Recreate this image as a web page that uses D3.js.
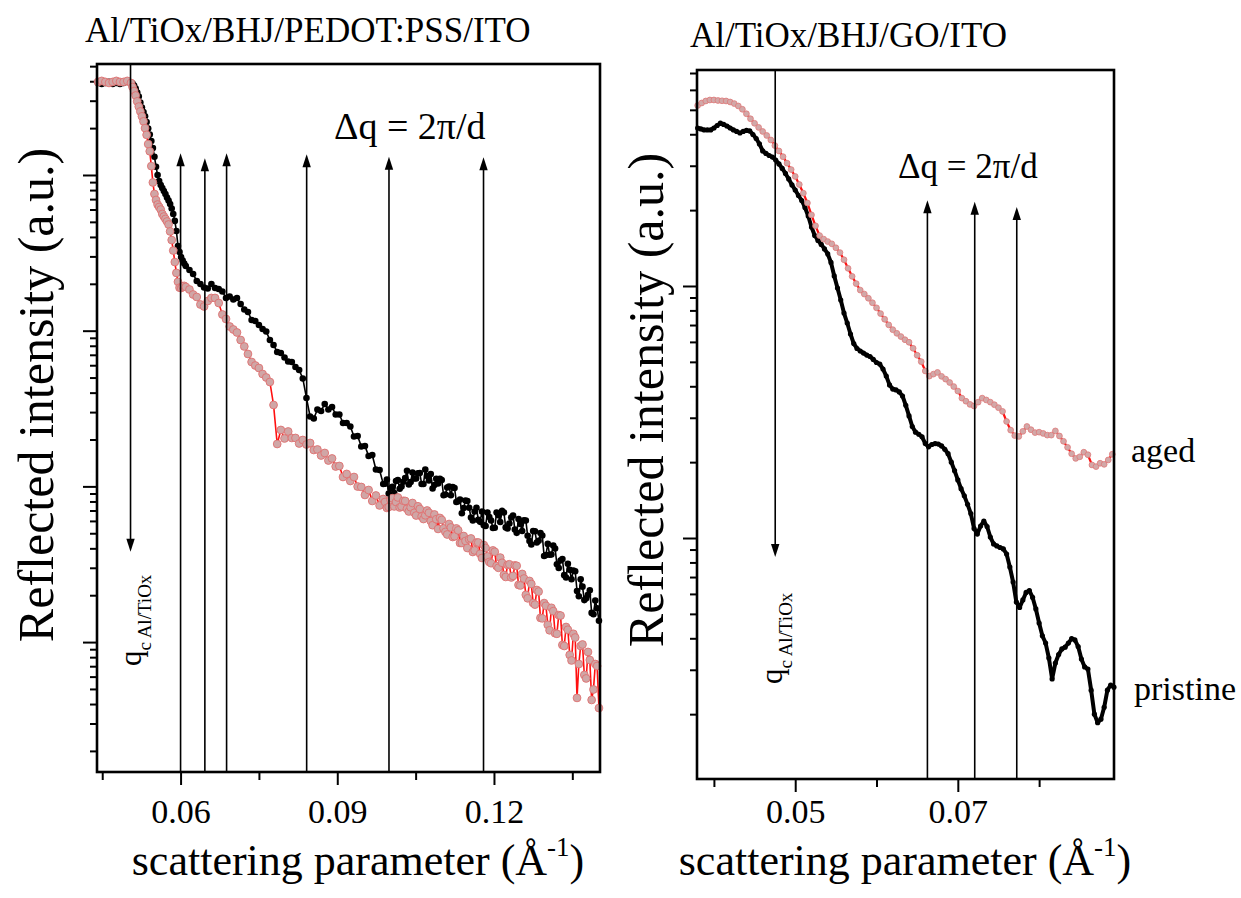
<!DOCTYPE html>
<html><head><meta charset="utf-8">
<script src="https://cdn.jsdelivr.net/npm/d3@7"></script>
<style>
body{margin:0;background:#fff}
svg text{font-family:"Liberation Serif","Times New Roman",serif;fill:#000}
</style>
</head><body>
<svg id="c" width="1241" height="898"></svg>
<script>
// ---------------- data: left panel (Al/TiOx/BHJ/PEDOT:PSS/ITO) ----------------
const leftQ = [
0.0442,0.0449,0.0456,0.0463,0.0470,0.0477,0.0484,0.0491,0.0498,0.0505,
0.0508,0.0511,0.0514,0.0517,0.0520,0.0523,0.0526,0.0529,0.0532,0.0535,0.0538,0.0541,0.0544,0.0547,0.0550,0.0553,0.0556,0.0559,0.0562,0.0565,0.0568,0.0571,0.0574,0.0577,0.0580,0.0583,0.0586,0.0589,0.0592,0.0595,0.0598,0.0601,0.0604,0.0607,0.0610,
0.0617,0.0624,0.0631,0.0638,0.0645,0.0652,0.0659,0.0666,0.0673,0.0680,
0.0687,0.0694,0.0701,0.0708,0.0715,0.0722,0.0729,0.0736,0.0743,0.0750,
0.0757,0.0764,0.0771,0.0778,0.0785,0.0792,0.0799,0.0806,0.0813,0.0820,
0.0827,0.0834,0.0841,0.0848,0.0855,0.0862,0.0869,0.0876,0.0883,0.0890,
0.0897,0.0904,0.0911,0.0918,0.0925,0.0932,0.0939,0.0946,0.0953,0.0960,
0.0967,0.0974,0.0981,0.0988,0.0995,0.1002,0.1009,0.1016,0.1023,0.1030,
0.1037,0.1044,0.1051,0.1058,0.1065,0.1072,0.1079,0.1086,0.1093,0.1100,
0.1107,0.1114,0.1121,0.1128,0.1135,0.1142,0.1149,0.1156,0.1163,0.1170,
0.1177,0.1184,0.1191,0.1198,0.1205,0.1212,0.1219,0.1226,0.1233,0.1240,
0.1247,0.1254,0.1261,0.1268,0.1275,0.1282,0.1289,0.1296,0.1303,0.1310,
0.1317,0.1324,0.1331,0.1338,0.1345,0.1352,0.1359,0.1366,0.1373,0.1380,
0.1387,0.1394,0.1401];
const leftPristine = [
0.390,0.384,0.390,0.396,0.384,0.390,0.384,0.390,0.396,0.390,
0.387,0.376,0.359,0.339,0.319,0.292,0.271,0.254,0.238,0.219,0.199,0.182,0.165,0.149,0.131,0.113,0.100,0.0915,0.0863,0.0825,0.0789,0.0755,0.0717,0.0686,0.0651,0.0609,0.0562,0.0507,0.0437,0.0350,0.0320,0.0297,0.0282,0.0270,0.0260,
0.02454,0.02313,0.02086,0.01995,0.01894,0.01866,0.01995,0.01880,0.01852,0.01786,
0.01622,0.01659,0.01586,0.01622,0.01484,0.01368,0.01318,0.01172,0.01155,0.01088,
0.01025,0.00988,0.008713,0.008094,0.007298,0.007191,0.006728,0.006340,0.006295,0.005845,
0.005592,0.004932,0.003697,0.002811,0.002729,0.003118,0.003050,0.003382,0.003118,0.003236,
0.002896,0.002896,0.002554,0.002554,0.002425,0.002092,0.002107,0.001804,0.001817,0.001567,
0.001591,0.001284,0.001275,0.001036,0.001107,0.000969,0.000907,0.001099,0.000998,0.001132,
0.001028,0.001229,0.001124,0.001220,0.001036,0.001166,0.001202,0.001021,0.001044,0.001099,
0.000887,0.000998,0.000991,0.000794,0.000824,0.000727,0.000806,0.000631,0.000690,0.000609,
0.000690,0.000557,0.000636,0.000540,0.000680,0.000591,0.000680,0.000537,0.000631,0.000529,
0.000617,0.000517,0.000604,0.000446,0.000517,0.000436,0.000502,0.000357,0.000427,0.000365,
0.000399,0.000299,0.000342,0.000260,0.000291,0.000288,0.000213,0.000253,0.000186,0.000201,
0.000154,0.000185,0.000137];
const leftAged = [
0.396,0.402,0.396,0.390,0.396,0.402,0.396,0.396,0.402,0.390,
0.367,0.346,0.324,0.297,0.275,0.256,0.238,0.221,0.200,0.181,0.158,0.142,0.114,0.0895,0.0755,0.0691,0.0646,0.0623,0.0600,0.0562,0.0541,0.0522,0.0503,0.0481,0.0434,0.0382,0.0327,0.0276,0.0235,0.0206,0.0189,0.0188,0.0192,0.0194,0.0191,
0.01839,0.01708,0.01646,0.01473,0.01430,0.01551,0.01622,0.01622,0.01506,0.01271,
0.01189,0.01064,0.01018,0.009737,0.008713,0.007918,0.007085,0.006295,0.005976,0.005759,
0.005271,0.005005,0.004683,0.003333,0.001872,0.002303,0.002031,0.002252,0.002046,0.002046,
0.001886,0.001986,0.001858,0.001900,0.001713,0.001726,0.001579,0.001639,0.001466,0.001511,
0.001342,0.001352,0.001149,0.001202,0.001083,0.001149,0.000998,0.000991,0.000881,0.000948,
0.000806,0.000874,0.000754,0.000830,0.000727,0.000818,0.000743,0.000849,0.000743,0.000806,
0.000690,0.000782,0.000650,0.000716,0.000617,0.000700,0.000599,0.000660,0.000533,0.000609,
0.000510,0.000573,0.000473,0.000537,0.000433,0.000480,0.000402,0.000463,0.000388,0.000436,
0.000347,0.000402,0.000327,0.000388,0.000308,0.000349,0.000270,0.000313,0.000260,0.000311,
0.000233,0.000274,0.000201,0.000247,0.000178,0.000216,0.000143,0.000178,0.000129,0.000166,
0.000114,0.000149,0.0000958,0.000125,0.0000827,0.000113,0.0000438,0.0000944,0.0000615,0.0000864,
0.0000425,0.0000723,0.0000377];
// extra (interleaved) readings in the noisy tail
const leftQTail = [
0.09915,0.09985,0.10055,0.10125,0.10195,0.10265,0.10335,0.10405,0.10475,0.10545,
0.10615,0.10685,0.10755,0.10825,0.10895,0.10965,0.11035,0.11105,0.11175,0.11245,
0.11315,0.11385,0.11455,0.11525,0.11595,0.11665,0.11735,0.11805,0.11875,0.11945,
0.12015,0.12085,0.12155,0.12225,0.12295,0.12365,0.12435,0.12505,0.12575,0.12645,
0.12715,0.12785,0.12855,0.12925,0.12995,0.13065,0.13135,0.13205,0.13275,0.13345,
0.13415,0.13485,0.13555,0.13625,0.13695,0.13765,0.13835,0.13905,0.13975];
const leftPristineTail = [
0.001039,0.000900,0.000994,0.001083,0.000965,0.001070,0.001259,0.001067,0.001124,0.001214,
0.001036,0.001284,0.001091,0.000969,0.001119,0.001119,0.000877,0.000984,0.000877,0.000977,
0.000802,0.000672,0.000812,0.000729,0.000604,0.000729,0.000592,0.000563,0.000680,0.000604,
0.000542,0.000652,0.000697,0.000545,0.000578,0.000650,0.000503,0.000573,0.000606,0.000482,
0.000423,0.000515,0.000447,0.000484,0.000362,0.000364,0.000417,0.000316,0.000334,0.000269,
0.000318,0.000253,0.000285,0.000197,0.000227,0.000191,0.000215,0.000151,0.000165];
const leftAgedTail = [
0.000794,0.000737,0.000839,0.000794,0.000732,0.000808,0.000718,0.000734,0.000677,0.000745,
0.000641,0.000652,0.000677,0.000563,0.000615,0.000627,0.000537,0.000491,0.000545,0.000478,
0.000522,0.000433,0.000446,0.000457,0.000379,0.000436,0.000369,0.000420,0.000355,0.000321,
0.000380,0.000300,0.000323,0.000262,0.000316,0.000266,0.000309,0.000231,0.000256,0.000191,
0.000236,0.000174,0.000211,0.000142,0.000171,0.000119,0.000158,0.000113,0.000148,0.0000944,
0.000120,0.0000762,0.000107,0.0000723,0.0000965,0.0000584,0.0000767,0.0000496,0.0000702];
const leftArrowQ = [0.0600,0.06465,0.06881,0.08414,0.0999,0.1180];
const leftArrowTip = [0.1378,0.1280,0.1378,0.1358,0.1311,0.1298];
const leftQc = 0.05042, leftQcTip = 0.000381;
const leftXMajor = [0.06,0.09,0.12];
const leftXLabels = ["0.06","0.09","0.12"];
const leftXMinor = [0.045,0.075,0.105,0.135];
const leftYMajor = [1e-4,1e-3,1e-2,1e-1];

// ---------------- data: right panel (Al/TiOx/BHJ/GO/ITO) ----------------
const rightQPristine = [
0.0380,0.0384,0.0388,0.0392,0.0396,0.0400,0.0404,0.0408,0.0412,0.0416,
0.0420,0.0424,0.0428,0.0432,0.0436,0.0440,0.0444,0.0448,0.0452,0.0456,
0.0460,0.0464,0.0468,0.0472,0.0476,0.0480,0.0484,0.0488,0.0492,0.0496,
0.0500,0.0504,0.0508,0.0512,0.0516,0.0520,0.0524,0.0528,0.0532,0.0536,
0.0540,0.0544,0.0548,0.0552,0.0556,0.0560,0.0564,0.0568,0.0572,0.0576,
0.0580,0.0584,0.0588,0.0592,0.0596,0.0600,0.0604,0.0608,0.0612,0.0616,
0.0620,0.0624,0.0628,0.0632,0.0636,0.0640,0.0644,0.0648,0.0652,0.0656,
0.0660,0.0664,0.0668,0.0672,0.0676,0.0680,0.0684,0.0688,0.0692,0.0696,
0.0700,0.0704,0.0708,0.0712,0.0716,0.0720,0.0724,0.0728,0.0732,0.0736,
0.0740,0.0744,0.0748,0.0752,0.0756,0.0760,0.0764,0.0768,0.0772,0.0776,
0.0780,0.0784,0.0788,0.0792,0.0796,0.0800,0.0804,0.0808,0.0812,0.0816,
0.0820,0.0824,0.0828,0.0832,0.0836,0.0840,0.0844,0.0848,0.0852,0.0856,
0.0860,0.0864,0.0868,0.0872,0.0876,0.0880,0.0884,0.0888,0.0892];
const rightPristine = [
0.4236,0.4198,0.4160,0.4160,0.4160,0.4236,0.4334,0.4434,0.4374,0.4314,
0.4236,0.4160,0.4103,0.4047,0.4103,0.4141,0.4122,0.3992,0.3848,0.3661,
0.3434,0.3356,0.3295,0.3250,0.3162,0.3049,0.2927,0.2796,0.2659,0.2517,
0.2404,0.2286,0.2184,0.2049,0.1896,0.1714,0.1586,0.1516,0.1462,0.1403,
0.1340,0.1240,0.1096,0.0982,0.0880,0.0781,0.0713,0.0645,0.0591,0.0565,
0.0552,0.0542,0.0532,0.0525,0.0511,0.0497,0.0490,0.0468,0.0439,0.0405,
0.0390,0.0387,0.0380,0.0366,0.0336,0.0305,0.0277,0.0263,0.0258,0.0252,
0.0237,0.0230,0.0235,0.0237,0.0236,0.0232,0.0225,0.0216,0.0200,0.0185,
0.0170,0.0157,0.0147,0.0136,0.0125,0.0109,0.01037,0.01116,0.01168,0.01111,
0.01009,0.00947,0.00930,0.00917,0.00905,0.00864,0.00767,0.00669,0.00557,0.00530,
0.00568,0.00608,0.00619,0.00581,0.00523,0.00460,0.00409,0.00383,0.00334,0.00276,
0.00319,0.00345,0.00363,0.00369,0.00383,0.00399,0.00394,0.00371,0.00331,0.00308,
0.00302,0.00249,0.00200,0.00185,0.00191,0.00213,0.00249,0.00261,0.00256];
const rightQAged = [
0.0380,0.0385,0.0390,0.0395,0.0400,0.0405,0.0410,0.0415,0.0420,0.0425,
0.0430,0.0435,0.0440,0.0445,0.0450,0.0455,0.0460,0.0465,0.0470,0.0475,
0.0480,0.0485,0.0490,0.0495,0.0500,0.0505,0.0510,0.0515,0.0520,0.0525,
0.0530,0.0535,0.0540,0.0545,0.0550,0.0555,0.0560,0.0565,0.0570,0.0575,
0.0580,0.0585,0.0590,0.0595,0.0600,0.0605,0.0610,0.0615,0.0620,0.0625,
0.0630,0.0635,0.0640,0.0645,0.0650,0.0655,0.0660,0.0665,0.0670,0.0675,
0.0680,0.0685,0.0690,0.0695,0.0700,0.0705,0.0710,0.0715,0.0720,0.0725,
0.0730,0.0735,0.0740,0.0745,0.0750,0.0755,0.0760,0.0765,0.0770,0.0775,
0.0780,0.0785,0.0790,0.0795,0.0800,0.0805,0.0810,0.0815,0.0820,0.0825,
0.0830,0.0835,0.0840,0.0845,0.0850,0.0855,0.0860,0.0865,0.0870,0.0875,
0.0880,0.0885,0.0890];
const rightAged = [
0.5203,0.5323,0.5421,0.5471,0.5471,0.5446,0.5431,0.5421,0.5372,0.5294,
0.5180,0.5026,0.4824,0.4608,0.4422,0.4259,0.4103,0.3956,0.3797,0.3606,
0.3434,0.3259,0.3071,0.2897,0.2720,0.2528,0.2335,0.2135,0.1915,0.1733,
0.1585,0.1535,0.1501,0.1470,0.1418,0.1357,0.1271,0.1175,0.1092,0.1022,
0.0963,0.0929,0.0894,0.0858,0.0819,0.0777,0.0738,0.0701,0.0671,0.0649,
0.0630,0.0612,0.0598,0.0566,0.0531,0.0501,0.0460,0.0439,0.0447,0.0454,
0.0438,0.0427,0.0414,0.0399,0.0383,0.0359,0.0349,0.0339,0.0334,0.0346,
0.0359,0.0353,0.0346,0.0338,0.0329,0.0318,0.0290,0.0268,0.0255,0.0253,
0.0265,0.0277,0.0269,0.0262,0.0263,0.0260,0.0256,0.0256,0.0266,0.0254,
0.0242,0.0229,0.0216,0.0207,0.0210,0.0219,0.0214,0.0195,0.0192,0.0198,
0.0196,0.0204,0.0215];
const rightArrowQ = [0.06626,0.07208,0.07725];
const rightArrowTip = [0.219,0.216,0.206];
const rightQc = 0.04754, rightQcTip = 0.00841;
const rightXMajor = [0.05,0.07];
const rightXLabels = ["0.05","0.07"];
const rightXMinor = [0.04,0.06,0.08];
const rightYMajor = [1e-2,1e-1];

// ---------------- drawing ----------------
const SERIF = '"Liberation Serif","Times New Roman",serif';
const svg = d3.select("#c");
svg.append("rect").attr("width",1241).attr("height",898).attr("fill","#fff");

function zip(qs, vs){ return qs.map((q,i)=>({q:q, v:vs[i]})); }

function drawPanel(o){
  const x = d3.scaleLinear().domain(o.xDomain).range([o.x0,o.x1]);
  const y = d3.scaleLog().domain(o.yDomain).range([o.y1,o.y0]);
  const g = svg.append("g");

  const axM = g.append("g").attr("transform",`translate(0,${o.y1})`)
    .call(d3.axisBottom(x).tickValues(o.xMajor).tickSize(13).tickPadding(o.tickPad)
      .tickFormat((d,i)=>o.xLabels[i]));
  axM.attr("font-size",34).attr("font-family",SERIF);
  const axm = g.append("g").attr("transform",`translate(0,${o.y1})`)
    .call(d3.axisBottom(x).tickValues(o.xMinor).tickSize(8).tickFormat(""));
  const isMajor = d => Math.abs(Math.log10(d)-Math.round(Math.log10(d)))<1e-6;
  const ayM = g.append("g").attr("transform",`translate(${o.x0},0)`)
    .call(d3.axisLeft(y).tickValues(o.yMajor).tickSize(14).tickFormat(""));
  const ayMinor = y.ticks().filter(d=>!isMajor(d));
  const aym = g.append("g").attr("transform",`translate(${o.x0},0)`)
    .call(d3.axisLeft(y).tickValues(ayMinor).tickSize(7).tickFormat(""));
  [axM,axm,ayM,aym].forEach(a=>{
    a.select(".domain").remove();
    a.selectAll(".tick line").attr("stroke","#000").attr("stroke-width",2);
  });

  const line = d3.line().x(d=>x(d.q)).y(d=>y(d.v));
  o.draw(g, x, y, line);

  const arrowG = g.append("g");
  o.arrowQ.forEach((q,i)=>{
    const xx = x(q), tip = y(o.arrowTip[i]);
    arrowG.append("line").attr("x1",xx).attr("x2",xx).attr("y1",o.y1).attr("y2",tip+8)
      .attr("stroke","#000").attr("stroke-width",1.6);
    arrowG.append("path").attr("d",`M${xx},${tip} L${xx-4.2},${tip+13} L${xx+4.2},${tip+13} Z`).attr("fill","#000");
  });
  {
    const xx = x(o.qc), tip = y(o.qcTip);
    arrowG.append("line").attr("x1",xx).attr("x2",xx).attr("y1",o.y0).attr("y2",tip-8)
      .attr("stroke","#000").attr("stroke-width",1.6);
    arrowG.append("path").attr("d",`M${xx},${tip} L${xx-4.2},${tip-13} L${xx+4.2},${tip-13} Z`).attr("fill","#000");
  }

  g.append("rect").attr("x",o.x0).attr("y",o.y0).attr("width",o.x1-o.x0).attr("height",o.y1-o.y0)
    .attr("fill","none").attr("stroke","#000").attr("stroke-width",2.6);

  g.append("text").attr("x",o.titleX).attr("y",o.titleY).attr("font-size",35).text(o.title);
  g.append("text").attr("transform",`translate(${o.yTitleX},${o.yTitleY}) rotate(-90)`)
    .attr("text-anchor","middle").attr("font-size",50).text("Reflected intensity (a.u.)");
  const xt = g.append("text").attr("x",o.xTitleX).attr("y",875).attr("text-anchor","middle").attr("font-size",44);
  xt.append("tspan").text("scattering parameter (Å");
  xt.append("tspan").attr("font-size",27).attr("dy",-19).text("-1");
  xt.append("tspan").attr("dy",19).text(")");
  g.append("text").attr("x",o.dqX).attr("y",o.dqY).attr("font-size",o.dqSize).text("Δq = 2π/d");
  const qt = g.append("text").attr("transform",`translate(${o.qcLabX},${o.qcLabY}) rotate(-90)`);
  qt.append("tspan").attr("font-size",31).text("q");
  qt.append("tspan").attr("font-size",19).attr("dy",10).text("c Al/TiOx");
  return {x,y,g};
}

drawPanel({
  xDomain:[0.0440,0.1403], x0:97, x1:600,
  yDomain:[1.464e-5,0.5162], y0:64, y1:772,
  xMajor:leftXMajor, xLabels:leftXLabels, xMinor:leftXMinor, yMajor:leftYMajor, tickPad:14,
  arrowQ:leftArrowQ, arrowTip:leftArrowTip, qc:leftQc, qcTip:leftQcTip,
  title:"Al/TiOx/BHJ/PEDOT:PSS/ITO", titleX:85, titleY:42,
  yTitleX:53, yTitleY:395, xTitleX:358,
  dqX:334, dqY:139, dqSize:38, qcLabX:141, qcLabY:666,
  draw:(g,x,y,line)=>{
    const byQ = (a,b)=>a.q-b.q;
    const p = zip(leftQ,leftPristine).concat(zip(leftQTail,leftPristineTail)).sort(byQ);
    const a = zip(leftQ,leftAged).concat(zip(leftQTail,leftAgedTail)).sort(byQ);
    g.append("path").datum(p).attr("d",line).attr("fill","none").attr("stroke","#000").attr("stroke-width",1.6);
    g.append("g").selectAll("circle").data(p).join("circle")
      .attr("cx",d=>x(d.q)).attr("cy",d=>y(d.v)).attr("r",3.3).attr("fill","#000");
    g.append("path").datum(a).attr("d",line).attr("fill","none").attr("stroke","#ff1010").attr("stroke-width",1.6);
    g.append("g").selectAll("circle").data(a).join("circle")
      .attr("cx",d=>x(d.q)).attr("cy",d=>y(d.v)).attr("r",3.9)
      .attr("fill","#d0a6a6").attr("stroke","#e07070").attr("stroke-width",0.9);
  }
});

drawPanel({
  xDomain:[0.03792,0.08921], x0:697, x1:1114,
  yDomain:[0.001106,0.7195], y0:70, y1:779,
  xMajor:rightXMajor, xLabels:rightXLabels, xMinor:rightXMinor, yMajor:rightYMajor, tickPad:7,
  arrowQ:rightArrowQ, arrowTip:rightArrowTip, qc:rightQc, qcTip:rightQcTip,
  title:"Al/TiOx/BHJ/GO/ITO", titleX:690, titleY:47,
  yTitleX:663, yTitleY:400, xTitleX:905,
  dqX:898, dqY:178, dqSize:35, qcLabX:782, qcLabY:684,
  draw:(g,x,y,line)=>{
    const p = zip(rightQPristine,rightPristine), a = zip(rightQAged,rightAged);
    g.append("path").datum(p).attr("d",line).attr("fill","none").attr("stroke","#000").attr("stroke-width",4).attr("stroke-linejoin","round");
    g.append("g").selectAll("circle").data(p).join("circle")
      .attr("cx",d=>x(d.q)).attr("cy",d=>y(d.v)).attr("r",2.6).attr("fill","#000");
    g.append("path").datum(a).attr("d",line).attr("fill","none").attr("stroke","#ff1010").attr("stroke-width",2.2);
    g.append("g").selectAll("circle").data(a).join("circle")
      .attr("cx",d=>x(d.q)).attr("cy",d=>y(d.v)).attr("r",2.9)
      .attr("fill","#d2a8a8").attr("stroke","#e07878").attr("stroke-width",0.8);
  }
});

svg.append("text").attr("x",1131).attr("y",462).attr("font-size",34).text("aged");
svg.append("text").attr("x",1134).attr("y",700).attr("font-size",34).text("pristine");
</script>
</body></html>
